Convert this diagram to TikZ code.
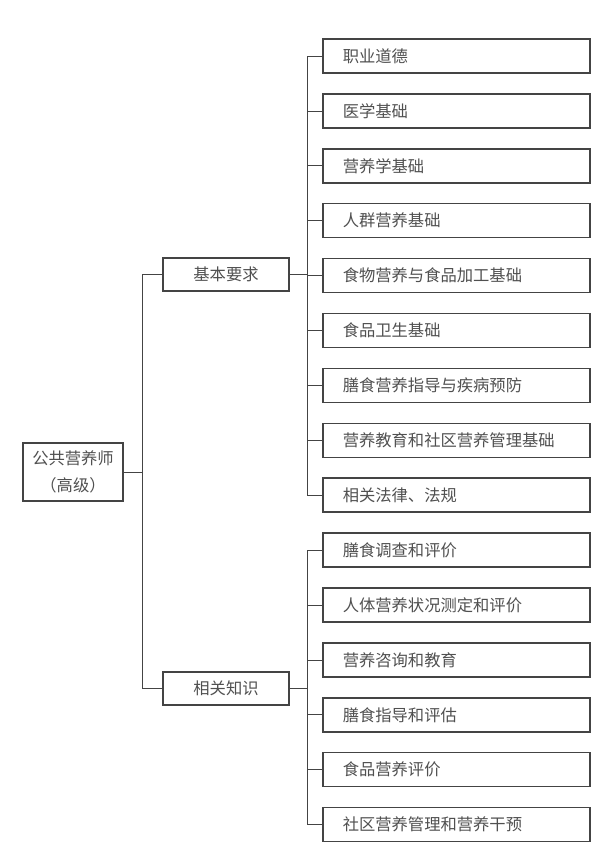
\documentclass[tikz,border=0pt]{standalone}
\usepackage{fontspec}
\setmainfont{Noto Sans CJK SC}
\usetikzlibrary{positioning}
\definecolor{boxline}{HTML}{444444}
\definecolor{boxtext}{HTML}{505050}

\begin{document}
\begin{tikzpicture}[x=1pt, y=-1pt,
    box/.style={draw=boxline, line width=1.5pt, text=boxtext, inner sep=0pt, font=\fontsize{16.3}{27}\selectfont},
    leaf/.style={box, minimum width=267pt, minimum height=34pt, text width=227pt, align=left},
    topic/.style={box, minimum width=126pt, minimum height=33pt},
    link/.style={draw=boxline, line width=0.8pt}]
    \useasboundingbox[fill=white] (0,0) rectangle (607,859);
    % root and the two topics
    \node[box, minimum width=100pt, minimum height=58pt, align=center] (root) at (73,472) {公共营养师\\（高级）};
    \node[topic] (req) at (226,274.5) {基本要求};
    \node[topic] (know) at (226,688.5) {相关知识};
    \draw[link] (root.east) -- ++(19,0) |- (req.west);
    \draw[link] (root.east) -- ++(19,0) |- (know.west);
    % leaves of the first topic
    \foreach \i/\t in {1/职业道德, 2/医学基础, 3/营养学基础, 4/人群营养基础, 5/食物营养与食品加工基础,
                       6/食品卫生基础, 7/膳食营养指导与疾病预防, 8/营养教育和社区营养管理基础, 9/相关法律、法规} {
        \node[leaf, anchor=west] (k\i) at (322,{56+(\i-1)*54.9}) {\t};
        \draw[link] (req.east) -- ++(18,0) |- (k\i.west);
    }
    % leaves of the second topic
    \foreach \i/\t in {10/膳食调查和评价, 11/人体营养状况测定和评价, 12/营养咨询和教育,
                       13/膳食指导和评估, 14/食品营养评价, 15/社区营养管理和营养干预} {
        \node[leaf, anchor=west] (k\i) at (322,{56+(\i-1)*54.9}) {\t};
        \draw[link] (know.east) -- ++(18,0) |- (k\i.west);
    }
\end{tikzpicture}
\end{document}
